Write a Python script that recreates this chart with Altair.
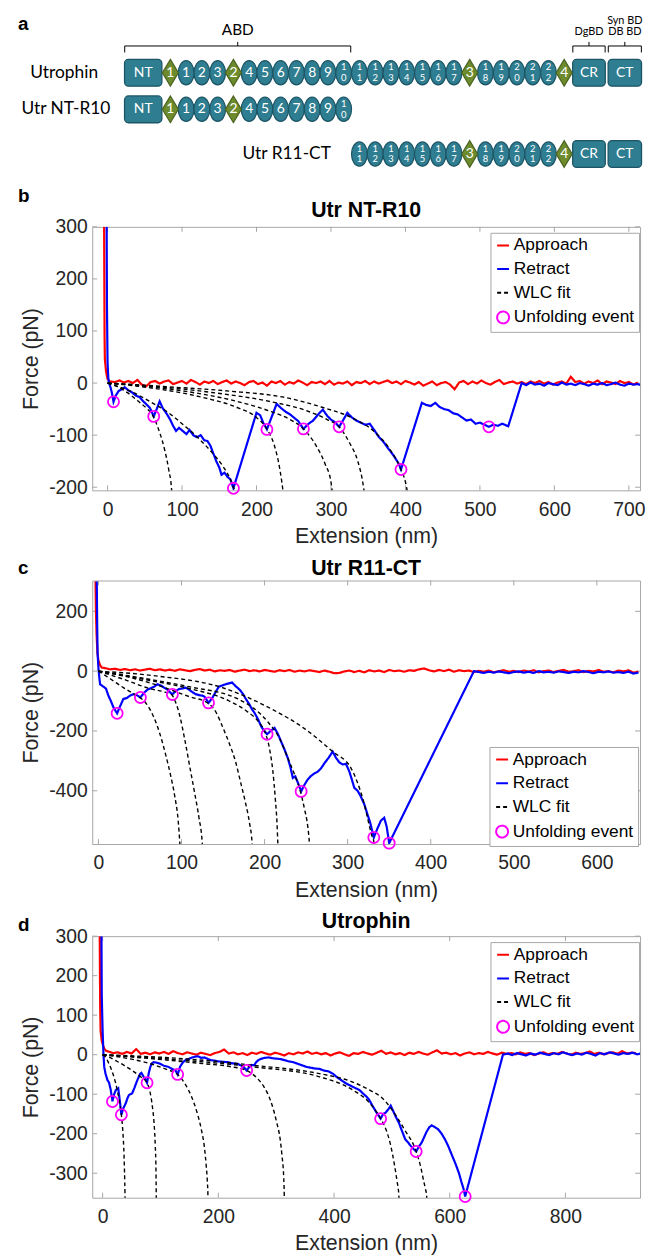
import altair as alt
import pandas as pd

FONT = "Liberation Sans"
DFONT = "Lato"
FRAME = "#a6a6a6"
TEAL = "#2f7d90"
TEAL_DARK = "#1c5566"
GREEN = "#6d8a2c"
GREEN_DARK = "#4a6320"
MINUS = "replace(datum.label, '\u2212', '-')"

SERIES = ["Approach", "Retract", "WLC fit", "Unfolding event"]
SERIES_COLORS = ["#ff0000", "#0000ff", "#000000", "#ff00ff"]
SERIES_DASH = [[1, 0], [1, 0], [4, 3], [1, 0]]
SERIES_SHAPE = ["stroke", "stroke", "stroke", "circle"]

# ------------------------------------------------------------------ panel a data
DOMAINS = ["NT", "H1", "R1", "R2", "R3", "H2", "R4", "R5", "R6", "R7", "R8", "R9", "R10",
           "R11", "R12", "R13", "R14", "R15", "R16", "R17", "H3", "R18", "R19", "R20", "R21",
           "R22", "H4", "CR", "CT"]
CONSTRUCTS = ["Utrophin", "Utr NT-R10", "Utr R11-CT"]
CONSTRUCT_FIRST = ["NT", "NT", "R11"]
CONSTRUCT_LAST = ["CT", "R10", "CT"]
BRACKET_TEXT = [["ABD"], ["DgBD"], ["Syn BD", "DB BD"]]
BRACKET_FROM = ["NT", "CR", "CT"]
BRACKET_TO = ["R10", "CR", "CT"]

# ------------------------------------------------------------------ panel b data (Utr NT-R10)
B_APPROACH_CONTACT = [(-4.6, 300), (-4.3, 190), (-4.0, 90), (-3.6, 46), (-2.0, 22), (0.0, 8), (2.0, 4)]
B_APPROACH_START, B_APPROACH_STEP = 4, 6
B_APPROACH_NOISE = [3, 2, 5, 1, 4, 0, 6, -3, -6, 2,
                    4, -1, 3, 5, -2, 1, 4, -1, 6, 2,
                    -3, 3, 0, 4, -2, 2, 5, -1, 3, 0,
                    -4, 2, 4, -2, 1, -5, 3, 0, 4, -3,
                    2, -1, 5, 1, -4, 2, 0, 3, -2, 4,
                    -3, 1, -1, 3, -4, 2, 0, 4, -2, 3,
                    -1, 2, 5, 0, 3, -2, 4, 1, -3, 2,
                    -5, -1, 3, -4, 0, 2, -3, -12, 1, 4,
                    -2, 3, -1, 5, 0, -3, 2, 6, -2, 1,
                    3, -1, 2, -2, 3, 0, 4, -1, 2, -3,
                    1, 3, -1, 12, 2, 4, -1, 3, 0, 5,
                    -2, 3, 1, -2, 4, 0, 2, -3, 1]
B_RETRACT = [(-1.2, 300), (-0.8, 150), (0, 40), (1, 10), (2, 0), (4, -8), (6, -20), (8, -36),
             (11, -24), (15, -15), (19, -12), (23, -8), (28, -14), (33, -18), (38, -24), (43, -27),
             (48, -35), (53, -42), (57, -48), (62, -64), (66, -50), (70, -35), (74, -48), (79, -58),
             (84, -70), (88, -82), (92, -92), (96, -86), (101, -92), (106, -98), (110, -90),
             (115, -100), (120, -104), (125, -100), (130, -110), (134, -111), (138, -120),
             (142, -135), (146, -150), (150, -162), (153, -176), (157, -172), (161, -180),
             (165, -185), (169, -202), (200, -57), (205, -62), (209, -76), (214, -89), (227, -40),
             (233, -48), (239, -55), (245, -60), (250, -66), (256, -73), (263, -88), (270, -78),
             (276, -72), (283, -60), (289, -51), (295, -63), (300, -70), (306, -76), (311, -84),
             (316, -72), (322, -57), (328, -66), (334, -72), (340, -76), (346, -80), (352, -78),
             (358, -90), (364, -103), (370, -112), (376, -124), (383, -137), (388, -148),
             (391, -155), (394, -166), (422, -38), (428, -42), (434, -44), (440, -38), (446, -46),
             (452, -50), (458, -52), (464, -58), (470, -60), (476, -66), (482, -72), (488, -70),
             (494, -78), (500, -76), (506, -80), (512, -84), (518, -80), (524, -82), (530, -78),
             (538, -83), (556, 0), (562, -4), (568, 1), (574, -3), (580, -1), (586, -5), (592, 0),
             (598, -2), (604, -4), (610, 1), (616, -3), (622, -1), (628, -4), (634, 0), (640, -2),
             (646, -5), (652, -1), (658, -3), (664, 0), (670, -4), (676, -2), (682, 1), (688, -3),
             (694, -5), (700, -1), (706, -3), (712, -2), (716, -4)]
B_WLC = [
    [(0, 0), (10, -5), (21, -13), (32, -24), (43, -37), (52, -48), (61, -63), (70, -95), (77, -130),
     (82, -165), (86, -205), (87, -240)],
    [(0, 0), (21, -10), (40, -22), (60, -38), (80, -55), (100, -78), (120, -103), (140, -133),
     (155, -160), (165, -185), (172, -212)],
    [(0, 0), (40, -6), (80, -14), (132, -29), (176, -48), (200, -66), (214, -88), (224, -120),
     (230, -155), (234, -190), (236, -212)],
    [(0, 0), (50, -6), (110, -17), (176, -36), (220, -55), (245, -70), (263, -88), (280, -120),
     (292, -155), (300, -190), (302, -212)],
    [(0, 0), (60, -6), (140, -18), (220, -36), (265, -52), (295, -70), (311, -84), (325, -115),
     (336, -150), (342, -185), (345, -212)],
    [(0, 0), (80, -7), (160, -15), (243, -29), (287, -46), (330, -68), (358, -93), (378, -125),
     (394, -166), (400, -190), (403, -212)],
]
B_EVENTS = [(8, -36), (62, -64), (169, -202), (214, -89), (263, -88), (311, -84), (394, -166), (512, -84)]
B_XTICKS = [0, 100, 200, 300, 400, 500, 600, 700]
B_YTICKS = [-200, -100, 0, 100, 200, 300]

# ------------------------------------------------------------------ panel c data (Utr R11-CT)
C_APPROACH_CONTACT = [(-3.5, 300), (-3.0, 200), (-2.2, 120), (-1.2, 60), (0, 35), (2, 20), (4, 12)]
C_APPROACH_START, C_APPROACH_STEP = 8, 6
C_APPROACH_NOISE = [10, 6, 8, 4, 7, 3, 6, 2, 5, 8,
                    3, 6, 2, 5, 1, 6, 3, 0, 4, 7,
                    2, 5, -1, 3, 1, 4, -2, 2, 5, 0,
                    3, -1, 4, 1, -2, 3, 0, 4, -2, 2,
                    -1, 3, 0, -3, 2, -2, -7, -6, -1, 2,
                    -3, 1, -4, 3, -1, 2, -3, 4, 0, 2,
                    -2, 3, 1, 6, 9, 3, -1, 4, 0, 5,
                    -2, 3, 0, 2, -3, 1, -2, 2, -4, 0,
                    3, -2, 1, -3, 2, -1, 3, -4, 0, 2,
                    -3, 1, 4, -2, 0, 3, -3, 1, -1, 4,
                    -2, 0, -4, 2, -1, 3, -5, -2]
C_RETRACT = [(-2, 300), (-1.5, 150), (-1, 60), (0, 10), (1, -20), (2, -44), (6, -52), (9, -58),
             (12, -82), (15, -100), (18, -121), (20, -130), (22.5, -141), (26, -118), (30, -93),
             (34, -90), (38, -82), (42, -77), (46, -80), (50.5, -88), (55, -72), (59, -62),
             (63, -57), (67, -52), (71, -44), (75, -48), (79, -55), (83, -62), (86, -70), (89, -78),
             (93, -66), (97, -60), (101, -58), (105, -55), (109, -62), (113, -70), (117, -77),
             (121, -80), (125, -82), (128, -86), (132.5, -106), (137, -90), (141, -70), (145, -52),
             (149, -48), (153, -44), (157, -41), (161, -38), (165, -50), (170, -62), (174, -76),
             (177, -91), (181, -108), (185, -128), (188, -140), (192, -160), (196, -185),
             (199, -198), (203, -211), (208, -198), (212, -190), (216, -210), (220, -236),
             (224, -262), (228, -291), (231, -320), (234, -357), (237, -352), (240, -372),
             (244, -402), (248, -380), (252, -362), (256, -350), (260, -342), (264, -336),
             (268, -325), (272, -308), (277, -290), (282, -269), (286, -290), (290, -305),
             (294, -312), (298, -310), (302, -335), (305, -362), (308, -390), (312, -400),
             (316, -420), (320, -445), (324, -480), (327, -505), (331.5, -556), (336, -525),
             (340, -500), (344, -490), (347, -520), (350, -575), (452, 0), (458, -3), (464, -6),
             (470, -2), (476, -5), (482, -1), (488, -4), (494, -7), (500, -3), (506, -1), (512, -5),
             (518, -2), (524, -6), (530, 0), (536, -4), (542, -2), (548, -5), (554, -1), (560, -3),
             (566, -6), (572, -2), (578, -4), (584, 0), (590, -3), (596, -7), (602, -2), (608, -4),
             (614, -1), (620, -5), (626, -3), (632, -6), (638, -2), (644, -8), (650, -5)]
C_WLC = [
    [(0, 0), (15, -27), (30, -55), (42, -75), (50, -88), (58, -110), (66, -150), (74, -210),
     (81, -280), (87, -350), (92, -420), (96, -500), (98, -577), (99, -630)],
    [(0, 0), (30, -27), (61.5, -58), (80, -70), (88, -78), (93, -105), (98, -150), (104, -230),
     (110, -320), (116, -410), (121, -490), (125, -577), (126, -630)],
    [(0, 0), (30, -16), (69, -45), (109, -85), (132, -107), (142, -140), (150, -190), (158, -245),
     (165, -302), (171, -370), (177, -440), (182, -510), (185, -577), (186, -630)],
    [(0, 0), (50, -25), (109, -58), (157, -99), (180, -137), (193, -170), (201.6, -212),
     (206, -260), (210, -335), (213, -430), (215, -510), (216, -577), (217, -630)],
    [(0, 0), (50, -22), (109, -52), (168, -93), (204, -170), (218, -225), (228, -291), (236, -345),
     (243, -401), (248, -460), (252, -520), (254, -577), (255, -630)],
    [(0, 0), (69, -16), (149, -55), (208, -126), (248, -192), (282, -269), (304, -324), (319, -434),
     (329, -549), (332, -577), (333, -630)],
]
C_EVENTS = [(22.5, -141), (50.5, -88), (89, -78), (132.5, -106), (203, -211), (244, -402),
            (331.5, -556), (350, -575)]
C_XTICKS = [0, 100, 200, 300, 400, 500, 600]
C_YTICKS = [-400, -200, 0, 200]

# ------------------------------------------------------------------ panel d data (Utrophin)
D_APPROACH_CONTACT = [(-5, 300), (-4.6, 200), (-4.2, 120), (-3.5, 60), (-1.5, 35), (1, 22), (3, 15), (6, 10)]
D_APPROACH_START, D_APPROACH_STEP = 10, 8
D_APPROACH_NOISE = [8, 4, 6, 2, 7, 3, 14, 2, 5, 1,
                    6, 3, 7, 2, 9, 4, 1, 6, 3, 0,
                    5, 2, -1, 4, 7, 13, 3, 6, 1, 4,
                    -1, 5, 2, 7, 3, 0, 5, 2, -2, 4,
                    1, 6, 3, 8, 2, 5, 1, 4, -2, 3,
                    6, 1, -3, 4, 2, 7, 3, 0, 5, 10,
                    2, 6, 1, 4, -1, 5, 2, 7, 3, 0,
                    6, 11, 3, 5, 1, 4, -2, 3, 6, 1,
                    4, 2, 7, 3, 0, 5, 2, 4, 1, 6,
                    2, 4, -1, 3, 6, 1, 4, 2, 7, 3,
                    0, 5, 2, 4, 8, 2, 5, 1, 4, 6,
                    2, 9, 3, 5, 4]
D_RETRACT = [(-2, 300), (-1.5, 150), (0, 60), (1.5, 0), (2.8, -31), (5, -48), (8.5, -65), (11, -70),
             (14, -89), (17, -118), (20, -100), (23, -89), (27, -85), (30, -120), (32.4, -152),
             (36, -135), (40, -123), (43, -110), (45.5, -102), (48, -100), (51, -98), (55, -84),
             (59, -68), (62.6, -56), (65, -48), (67, -46), (71, -56), (74, -62), (76.8, -71),
             (80, -45), (82.5, -31), (85, -22), (88, -19), (93, -20), (99.5, -23), (106, -28),
             (114, -31), (120, -36), (126, -40), (129.7, -50), (134, -30), (139, -19), (144, -13),
             (148, -11), (155, -7), (160, -5), (165, -4), (170, -8), (176, -7), (182, -11),
             (188, -14), (193, -15), (200, -17), (208, -18), (216, -19), (224, -22), (233, -23),
             (240, -28), (245, -33), (249, -40), (253, -32), (257, -26), (261.6, -27), (266, -18),
             (270, -13), (273, -11), (280, -8), (287, -7), (294, -9), (300, -10), (307, -11),
             (315, -14), (322, -17), (330, -19), (337, -23), (345, -27), (352.6, -31), (360, -33),
             (367, -35), (375, -36), (382, -40), (390, -42), (398, -48), (405, -57), (413, -65),
             (421, -73), (428, -78), (436, -84), (443.6, -89), (450, -98), (456, -106),
             (460.7, -114), (466, -128), (472, -143), (476, -152), (480.6, -162), (485, -150),
             (489, -147), (494, -138), (498, -129), (503, -145), (507, -158), (512, -172),
             (518, -195), (523, -214), (528, -222), (532, -230), (537, -238), (542, -245),
             (547, -232), (551.7, -222), (556, -208), (560, -195), (565, -183), (569, -179),
             (575, -184), (580, -189), (586, -200), (592, -215), (597, -230), (604, -255),
             (611, -280), (616, -300), (620, -321), (624, -340), (626.7, -359), (692, 0), (700, 3),
             (708, -1), (716, 4), (724, 1), (732, -2), (740, 3), (748, 0), (756, 5), (764, 2),
             (772, -1), (780, 4), (788, 1), (796, 6), (804, 2), (812, -1), (820, 3), (828, 0),
             (836, 5), (844, 2), (852, -2), (860, 4), (868, 1), (876, 6), (884, 3), (892, 0),
             (900, 4), (908, 2), (916, 5), (924, 1), (930, 3)]
D_WLC = [
    [(0, 0), (5, -6), (11, -23), (17, -45), (22.7, -73), (28, -110), (32.4, -152), (35, -195),
     (37, -255), (38.7, -355), (39.2, -400)],
    [(0, 0), (11, -6), (22.7, -15), (37, -27), (51, -40), (65, -55), (76.8, -71), (82, -95),
     (86, -131), (89, -175), (91, -230), (92.2, -290), (92.7, -355), (93, -400)],
    [(0, 0), (34, -7), (70, -18), (91, -27), (112, -38), (129.7, -50), (143, -75), (153.6, -106),
     (163, -145), (170.6, -189), (176, -235), (179, -280), (181, -320), (182, -355), (182.5, -400)],
    [(0, 0), (91, -11), (176, -23), (220, -30), (249, -40), (266, -58), (278.7, -81), (290, -115),
     (301, -172), (307, -215), (310, -255), (313, -310), (314, -355), (314.5, -400)],
    [(0, 0), (148, -15), (261.6, -31), (375, -56), (432, -89), (460, -120), (480.6, -162),
     (490, -190), (498, -230), (504, -275), (509, -321), (512, -355), (513, -400)],
    [(0, 0), (148, -11), (261.6, -27), (375, -48), (430, -68), (460.7, -89), (485, -112),
     (500, -139), (522, -190), (542, -245), (550, -285), (554, -313), (558, -340), (560, -355),
     (561, -400)],
]
D_EVENTS = [(17, -118.5), (32.4, -152), (76.8, -71), (129.7, -50), (249, -40), (480.6, -162),
            (542, -245), (626.7, -359)]
D_XTICKS = [0, 200, 400, 600, 800]
D_YTICKS = [-300, -200, -100, 0, 100, 200, 300]

W = 553

# ------------------------------------------------------------------ panel a (domain diagram)
BOX_W = {"NT": 2.45, "CR": 2.15, "CT": 2.2}
GAP_BEFORE = {"CT": 0.1}
ROW_Y = [0.0, 0.9, 2.0]
LABEL_RIGHT = [-1.64, -0.86, 13.14]
ELLIPSE = ("M0,-1C0.359,-1 0.65,-0.552 0.65,0C0.65,0.552 0.359,1 0,1"
           "C-0.359,1 -0.65,0.552 -0.65,0C-0.65,-0.552 -0.359,-1 0,-1Z")
DIAMOND = "M0,-1L0.6,0L0,1L-0.6,0Z"

pos = {}
cur = 0.0
for d in DOMAINS:
    cur += GAP_BEFORE.get(d, 0.0)
    w = BOX_W.get(d, 1.0)
    pos[d] = (cur, cur + w)
    cur += w

el_rows = []
for ri, name in enumerate(CONSTRUCTS):
    i0 = DOMAINS.index(CONSTRUCT_FIRST[ri])
    i1 = DOMAINS.index(CONSTRUCT_LAST[ri])
    for d in DOMAINS[i0:i1 + 1]:
        x0, x1 = pos[d]
        kind = "box" if d in BOX_W else ("hinge" if d[0] == "H" else "repeat")
        num = d if kind == "box" else d[1:]
        two = kind == "repeat" and len(num) == 2
        inset = 0.04 if kind == "box" else 0.0
        el_rows.append(dict(kind=kind, x0=x0 + inset, x1=x1 - inset, xc=(x0 + x1) / 2,
                            y=ROW_Y[ri], yt=ROW_Y[ri] - 0.33, yb=ROW_Y[ri] + 0.33,
                            single="" if two else num,
                            top=num[0] if two else "", bot=num[1] if two else ""))
el = pd.DataFrame(el_rows)

AXS = alt.Scale(domain=[-2.013, 32.767], nice=False, zero=False)
AYS = alt.Scale(domain=[-1.427, 2.549], reverse=True, nice=False, zero=False)


def ax(f):
    return alt.X(f, scale=AXS, axis=None)


def ay(f):
    return alt.Y(f, scale=AYS, axis=None)


elc = alt.Chart(el)
boxes = elc.transform_filter("datum.kind == 'box'").mark_rect(
    cornerRadius=4, fill=TEAL, stroke=TEAL_DARK, strokeWidth=1.3
).encode(x=ax("x0:Q"), x2="x1:Q", y=ay("yt:Q"), y2="yb:Q")
ellipses = elc.transform_filter("datum.kind == 'repeat'").mark_point(
    shape=ELLIPSE, size=600, filled=True, fill=TEAL, stroke=TEAL_DARK, strokeWidth=1.2, opacity=1
).encode(x=ax("xc:Q"), y=ay("y:Q"))
diamonds = elc.transform_filter("datum.kind == 'hinge'").mark_point(
    shape=DIAMOND, size=729, filled=True, fill=GREEN, stroke=GREEN_DARK, strokeWidth=1.2, opacity=1
).encode(x=ax("xc:Q"), y=ay("y:Q"))
single_txt = elc.transform_filter("datum.single != ''").mark_text(
    font=DFONT, fontSize=14, color="white"
).encode(x=ax("xc:Q"), y=ay("y:Q"), text="single:N")
top_txt = elc.transform_filter("datum.top != ''").mark_text(
    font=DFONT, fontSize=9.5, color="white", dy=-5.5
).encode(x=ax("xc:Q"), y=ay("y:Q"), text="top:N")
bot_txt = elc.transform_filter("datum.bot != ''").mark_text(
    font=DFONT, fontSize=9.5, color="white", dy=5.5
).encode(x=ax("xc:Q"), y=ay("y:Q"), text="bot:N")

names = alt.Chart(pd.DataFrame({"name": CONSTRUCTS, "x": LABEL_RIGHT, "y": ROW_Y})).mark_text(
    font=DFONT, fontSize=17.5, align="right", color="black"
).encode(x=ax("x:Q"), y=ay("y:Q"), text="name:N")

BR_H, BR_END, BR_TIP = -0.66, -0.50, -0.76
br_rows, brl_rows = [], []
for lines_, f, t in zip(BRACKET_TEXT, BRACKET_FROM, BRACKET_TO):
    x0 = pos[f][0] + 0.05
    x1 = pos[t][1] - 0.05
    br_rows.append(dict(x0=x0, x1=x1, xc=(x0 + x1) / 2, yh=BR_H, ye=BR_END, yt=BR_TIP))
    big = len(lines_) == 1 and f == "NT"
    base = -1.06 if big else -1.01
    for j, s in enumerate(lines_):
        brl_rows.append(dict(x=(x0 + x1) / 2, y=base - (len(lines_) - 1 - j) * 0.27, t=s,
                             fs=15.5 if big else 11))
br = alt.Chart(pd.DataFrame(br_rows))
br_h = br.mark_rule(color="black", strokeWidth=1).encode(x=ax("x0:Q"), x2="x1:Q", y=ay("yh:Q"))
br_l = br.mark_rule(color="black", strokeWidth=1).encode(x=ax("x0:Q"), y=ay("yh:Q"), y2="ye:Q")
br_r = br.mark_rule(color="black", strokeWidth=1).encode(x=ax("x1:Q"), y=ay("yh:Q"), y2="ye:Q")
br_c = br.mark_rule(color="black", strokeWidth=1).encode(x=ax("xc:Q"), y=ay("yh:Q"), y2="yt:Q")
br_txt = alt.Chart(pd.DataFrame(brl_rows)).mark_text(font=DFONT, color="black").encode(
    x=ax("x:Q"), y=ay("y:Q"), text="t:N", size=alt.Size("fs:Q", scale=None, legend=None))


def text_layer(txt, x, y, size, align):
    return alt.Chart(pd.DataFrame({"t": [txt]})).mark_text(
        font=FONT, fontSize=size, fontWeight="bold", align=align, baseline="alphabetic",
        color="black"
    ).encode(text="t:N", x=alt.value(x), y=alt.value(y))


panel_a = alt.layer(
    br_h, br_l, br_r, br_c, br_txt, boxes, ellipses, diamonds, single_txt, top_txt, bot_txt,
    names, text_layer("a", -75, 15, 19, "left")
).properties(width=W, height=163, view=alt.ViewBackground(stroke="transparent"))


# ------------------------------------------------------------------ force panels
def force_panel(letter, title, contact, start, step, noise, retract, wlc, events,
                xdom, ydom, xticks, yticks, legend_xy, title_y, letter_y, height):
    recs = []
    appr = list(contact) + [(start + step * i, v) for i, v in enumerate(noise)]
    for i, (x, f) in enumerate(appr):
        recs.append({"x": x, "F": f, "series": "Approach", "curve": "approach", "idx": i})
    for i, (x, f) in enumerate(retract):
        recs.append({"x": x, "F": f, "series": "Retract", "curve": "retract", "idx": i})
    for k, curve in enumerate(wlc):
        for i, (x, f) in enumerate(curve):
            recs.append({"x": x, "F": f, "series": "WLC fit", "curve": f"wlc{k}", "idx": i})
    lines = pd.DataFrame(recs)
    ev = pd.DataFrame({"x": [e[0] for e in events], "F": [e[1] for e in events],
                       "series": ["Unfolding event"] * len(events)})

    xs = alt.Scale(domain=xdom, nice=False, zero=False)
    ys = alt.Scale(domain=ydom, nice=False, zero=False)
    ax_x = alt.Axis(values=xticks, title="Extension (nm)", labelPadding=10, titlePadding=7,
                    labelExpr=MINUS, ticks=False, tickSize=0, domain=False, grid=False,
                    labelFlush=False, labelOverlap=False)
    ax_y = alt.Axis(values=yticks, title="Force (pN)", labelPadding=5, titlePadding=6,
                    labelExpr=MINUS, ticks=False, tickSize=0, domain=False, grid=False,
                    labelFlush=False, labelOverlap=False)
    xenc = alt.X("x:Q", scale=xs, axis=ax_x)
    yenc = alt.Y("F:Q", scale=ys, axis=ax_y)
    leg = alt.Legend(title=None, orient="none", legendX=legend_xy[0], legendY=legend_xy[1],
                     strokeColor=FRAME, fillColor="white", padding=4, rowPadding=4.9,
                     labelFont=FONT, labelFontSize=17.5, labelColor="black", labelOffset=2,
                     symbolSize=144, symbolStrokeWidth=2, labelLimit=300)
    color = alt.Color("series:N", scale=alt.Scale(domain=SERIES, range=SERIES_COLORS), legend=leg)
    dash = alt.StrokeDash("series:N", scale=alt.Scale(domain=SERIES, range=SERIES_DASH), legend=leg)
    shape = alt.Shape("series:N", scale=alt.Scale(domain=SERIES, range=SERIES_SHAPE), legend=leg)

    xt = alt.Chart(pd.DataFrame({"x": xticks}))
    yt = alt.Chart(pd.DataFrame({"F": yticks}))
    t_bottom = xt.mark_rule(color=FRAME, strokeWidth=1).encode(
        x=xenc, y=alt.value(height), y2=alt.value(height - 5))
    t_top = xt.mark_rule(color=FRAME, strokeWidth=1).encode(
        x=xenc, y=alt.value(0), y2=alt.value(5))
    t_left = yt.mark_rule(color=FRAME, strokeWidth=1).encode(
        y=yenc, x=alt.value(0), x2=alt.value(5))
    t_right = yt.mark_rule(color=FRAME, strokeWidth=1).encode(
        y=yenc, x=alt.value(W), x2=alt.value(W - 5))

    base = alt.Chart(lines)
    traces = base.transform_filter(
        alt.FieldOneOfPredicate(field="series", oneOf=["Approach", "Retract"])
    ).mark_line(strokeWidth=2.2, clip=True).encode(
        x=xenc, y=yenc, color=color, strokeDash=dash, detail="curve:N", order="idx:Q")
    fits = base.transform_filter("datum.series == 'WLC fit'").mark_line(
        strokeWidth=1.4, clip=True, interpolate="monotone"
    ).encode(x=xenc, y=yenc, color=color, strokeDash=dash, detail="curve:N", order="idx:Q")
    pts = alt.Chart(ev).mark_point(size=125, filled=False, strokeWidth=1.8, opacity=1).encode(
        x=xenc, y=yenc, color=color, shape=shape)

    return alt.layer(
        t_bottom, t_top, t_left, t_right, traces, fits, pts,
        text_layer(letter, -75, letter_y, 19, "left"),
        text_layer(title, W / 2, title_y, 21.5, "center"),
    ).properties(width=W, height=height)


panel_b = force_panel("b", "Utr NT-R10", B_APPROACH_CONTACT, B_APPROACH_START, B_APPROACH_STEP,
                      B_APPROACH_NOISE, B_RETRACT, B_WLC, B_EVENTS, [-20.6, 715], [-206, 300],
                      B_XTICKS, B_YTICKS, (402, 6), -10, -25, 266)
panel_c = force_panel("c", "Utr R11-CT", C_APPROACH_CONTACT, C_APPROACH_START, C_APPROACH_STEP,
                      C_APPROACH_NOISE, C_RETRACT, C_WLC, C_EVENTS, [-7.5, 652], [-578, 303],
                      C_XTICKS, C_YTICKS, (401, 168), -6, -7, 266)
panel_d = force_panel("d", "Utrophin", D_APPROACH_CONTACT, D_APPROACH_START, D_APPROACH_STEP,
                      D_APPROACH_NOISE, D_RETRACT, D_WLC, D_EVENTS, [-18, 929], [-362, 300],
                      D_XTICKS, D_YTICKS, (402, 6), -8, -5, 264)

chart = alt.vconcat(panel_a, panel_b, panel_c, panel_d, spacing=9).resolve_scale(
    x="independent", y="independent", color="independent", strokeDash="independent",
    shape="independent"
).properties(
    padding={"left": 9, "top": 0, "right": 0, "bottom": 0}, background="white"
).configure_view(
    stroke=FRAME, strokeWidth=1
).configure_axis(
    labelFont=FONT, titleFont=FONT, labelFontSize=19.5, titleFontSize=21.5,
    titleFontWeight="normal", labelColor="#262626", titleColor="#262626"
)

chart.save("out.html", embed_options={"renderer": "svg", "actions": False})
